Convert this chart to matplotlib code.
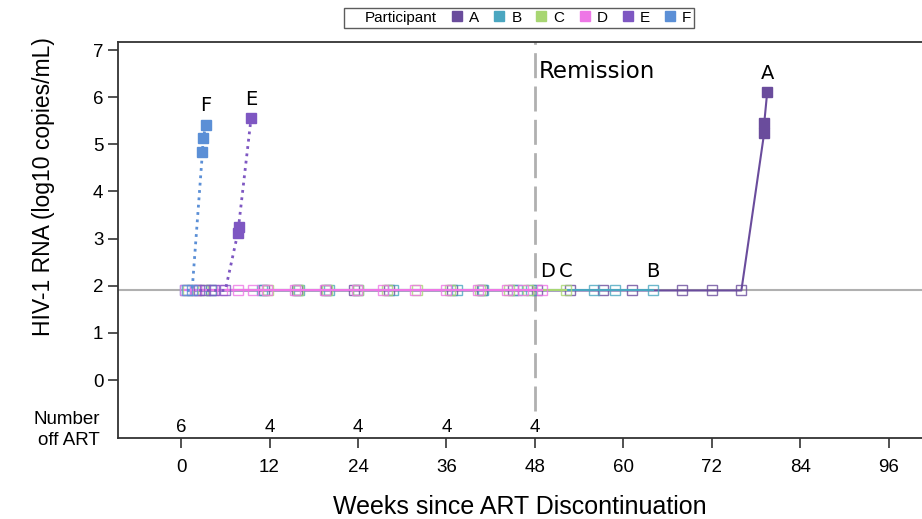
import matplotlib.pyplot as plt
from matplotlib.lines import Line2D

plt.rcParams['font.family'] = ['Liberation Sans', 'DejaVu Sans']

LLOQ = 1.9

# weeks / log10 RNA per participant
a_weeks = [2, 4, 11.2, 15.7, 19.7, 23.5, 28.2, 36.8, 40.8, 45, 48.3, 52.7, 57.2, 61.2, 68, 72, 76, 79.1, 79.1, 79.5]
a_vals = [1.9] * 17 + [5.25, 5.45, 6.1]
b_weeks = [0.6, 4, 11, 16, 20, 24, 28.7, 37.4, 41, 45.5, 47.5, 56, 58.8, 64]
b_vals = [1.9] * 14
c_weeks = [1, 3, 11.8, 15.8, 19.8, 24, 28, 32, 36.5, 40.5, 44.5, 47, 52.2]
c_vals = [1.9] * 13
d_weeks = [0.5, 2, 5.5, 7.7, 9.7, 11.6, 15.5, 19.5, 23.8, 27.4, 31.7, 36, 40.3, 44.2, 46.4, 49]
d_vals = [1.9] * 16
e_weeks = [2.5, 3.3, 4.5, 6.0, 7.7, 7.8, 9.5]
e_vals = [1.9, 1.9, 1.9, 1.9, 3.12, 3.25, 5.56]
f_weeks = [0.8, 1.5, 2.9, 3.0, 3.4]
f_vals = [1.9, 1.9, 4.83, 5.13, 5.42]

participants = ['A', 'B', 'C', 'D', 'E', 'F']
colors = ['#6a4c9c', '#4aa6c0', '#a8d672', '#ee77e6', '#7e57c2', '#5b8fd6']
styles = ['-', '-', '-', '-', ':', ':']
weeks = [a_weeks, b_weeks, c_weeks, d_weeks, e_weeks, f_weeks]
vals = [a_vals, b_vals, c_vals, d_vals, e_vals, f_vals]
orders = [3, 4, 5, 6, 7, 7]

count_weeks = [0, 12, 24, 36, 48]
count_off_art = [6, 4, 4, 4, 4]

fig = plt.figure(figsize=(9.22, 5.19), dpi=100)
ax = fig.add_axes([0.128, 0.156, 0.872, 0.763])

ax.axhline(LLOQ, color='#b0b0b0', lw=1.5, zorder=1)
ax.plot([48, 48], [-0.65, 7.3], color='#b0b0b0', lw=2, dashes=(9, 3), zorder=1)
ax.text(48.5, 6.55, 'Remission', fontsize=16.5, ha='left', va='center',
        family=['DejaVu Sans'])

for p, c, ls, w, v, z in zip(participants, colors, styles, weeks, vals, orders):
    lw = 2 if ls == ':' else 1.5
    ax.plot(w, v, color=c, ls=ls, lw=lw, zorder=z)
    wl = [x for x, y in zip(w, v) if y <= LLOQ]
    vl = [y for y in v if y <= LLOQ]
    wh = [x for x, y in zip(w, v) if y > LLOQ]
    vh = [y for y in v if y > LLOQ]
    ax.plot(wl, vl, 's', ms=7.5, mfc='none', mec=c, mew=1, alpha=0.8, zorder=z)
    ax.plot(wh, vh, 's', ms=7.5, mfc=c, mec=c, zorder=z)
    top = max(v)
    if top > LLOQ:
        ax.text(w[v.index(top)], top + 0.4, p, fontsize=14, ha='center', va='center',
                family=['DejaVu Sans'])

for x, p in [(49.7, 'D'), (52.2, 'C'), (64, 'B')]:
    ax.text(x, 2.3, p, fontsize=14, ha='center', va='center', family=['DejaVu Sans'])

for x, n in zip(count_weeks, count_off_art):
    ax.text(x, -1.0, str(n), fontsize=13.5, ha='center', va='center')
ax.text(-11, -1.05, 'Number\noff ART', fontsize=13.5, ha='right', va='center',
        linespacing=1.3)

ax.set_xlim(-8.55, 100.5)
ax.set_ylim(-1.23, 7.17)
ax.set_xticks(range(0, 97, 12))
ax.set_yticks(range(0, 8))
ax.tick_params(labelsize=13.5, length=7, width=1.2, color='#333333')
ax.tick_params(axis='x', pad=8)
for s in ax.spines.values():
    s.set_color('#333333')
    s.set_linewidth(1.3)
ax.spines['right'].set_visible(False)
ax.set_xlabel('Weeks since ART Discontinuation', fontsize=18, labelpad=14)
ax.set_ylabel('HIV-1 RNA (log10 copies/mL)', fontsize=16.5, labelpad=8)
ax.yaxis.set_label_coords(-0.078, 0.635)

handles = [Line2D([], [], ls='none')]
labels = ['Participant']
for p, c in zip(participants, colors):
    handles.append(Line2D([], [], ls='none', marker='s', ms=7.5, mfc=c, mec=c))
    labels.append(p)
fig.legend(handles, labels, loc='upper center', bbox_to_anchor=(0.563, 1.0),
           ncol=7, fontsize=11, frameon=True, fancybox=False, edgecolor='#333333',
           handlelength=0.8, handletextpad=0.4, columnspacing=0.9,
           borderpad=0.2)

fig.savefig('out.png', dpi=100)
